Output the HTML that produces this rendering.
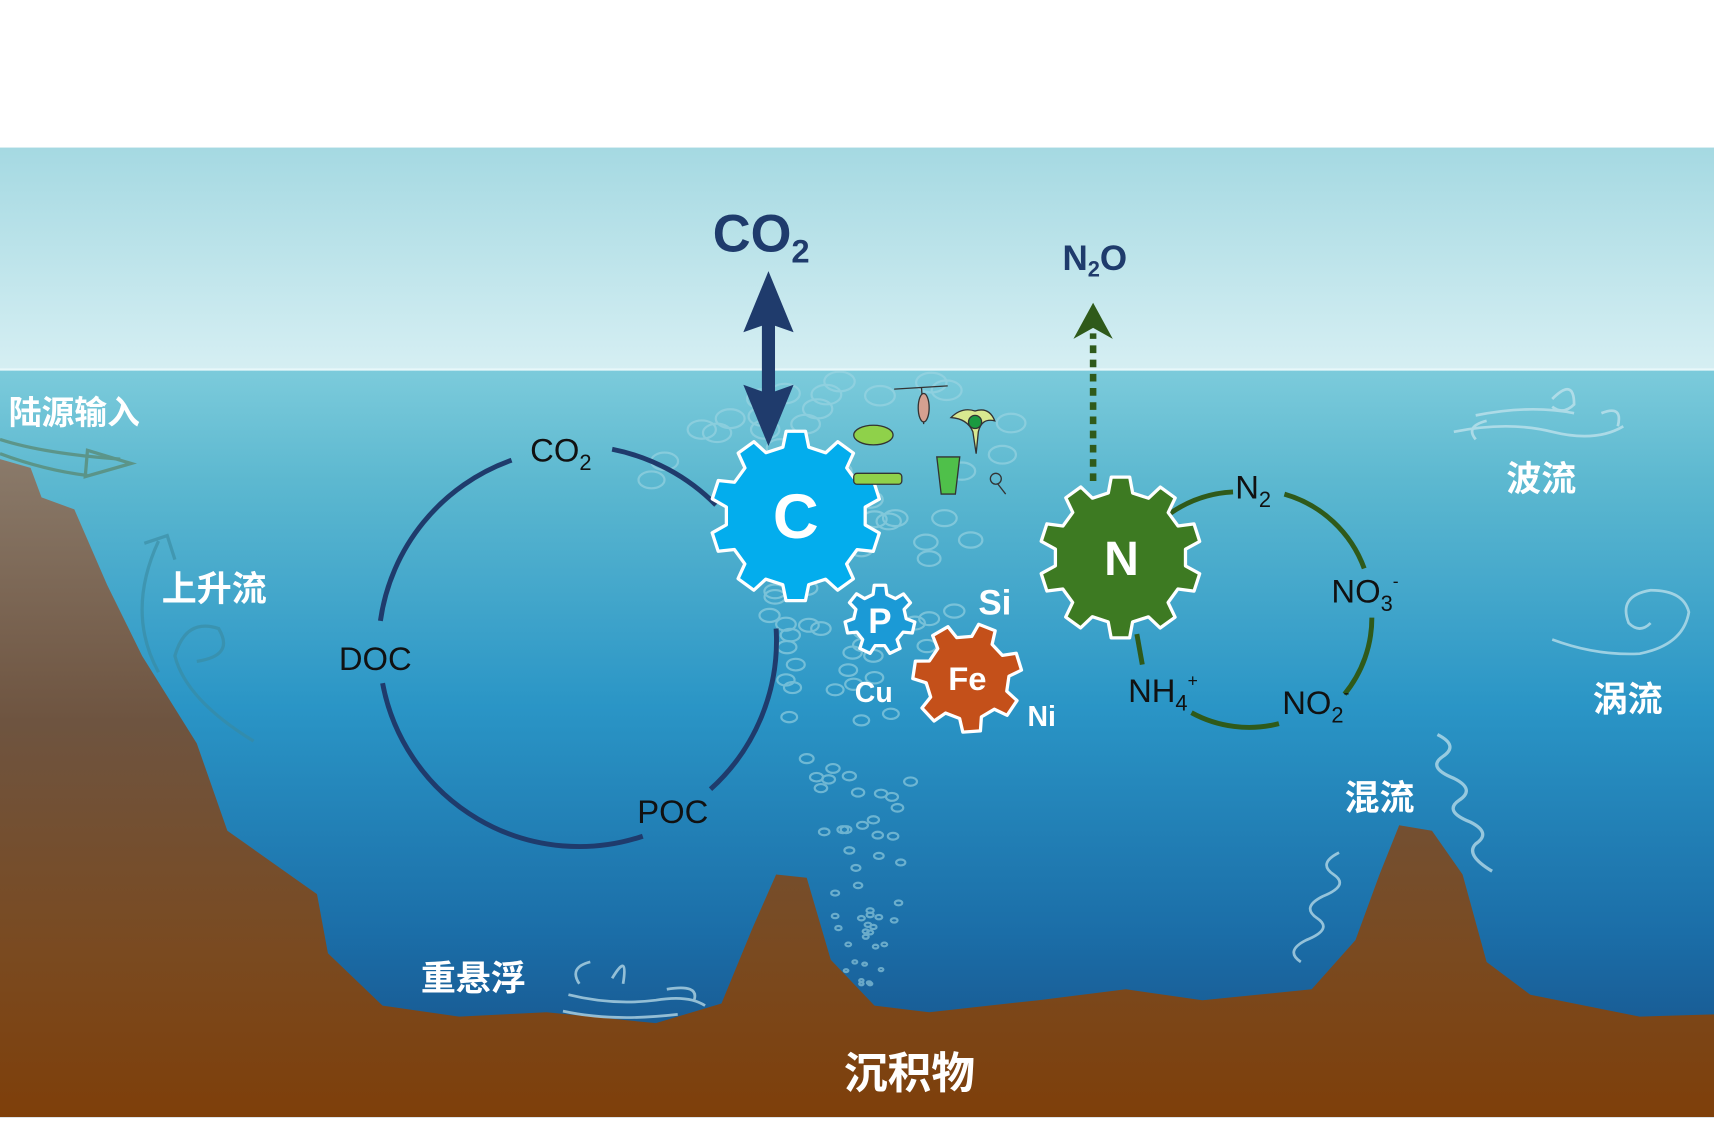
<!DOCTYPE html>
<html><head><meta charset="utf-8"><style>
html,body{margin:0;padding:0;background:#fff;width:1714px;height:1127px;overflow:hidden}
svg{display:block}
text{font-family:"Liberation Sans","Noto Sans CJK SC",sans-serif}
.cn{font-family:"Noto Sans CJK SC","WenQuanYi Zen Hei",sans-serif;font-weight:bold;fill:#fff}
.lb{font-family:"DejaVu Sans","Liberation Sans",sans-serif;fill:#111}
</style></head><body>
<svg id="s" width="1714" height="1127" viewBox="0 0 1568 1031" preserveAspectRatio="none" xmlns="http://www.w3.org/2000/svg">
<defs>
<linearGradient id="sky" x1="0" y1="0" x2="0" y2="1"><stop offset="0" stop-color="#a5d9e2"/><stop offset="1" stop-color="#d6eff3"/></linearGradient>
<linearGradient id="sea" x1="0" y1="0" x2="0" y2="1"><stop offset="0" stop-color="#7ccbdb"/><stop offset="0.15" stop-color="#5cb8d0"/><stop offset="0.45" stop-color="#2a95c6"/><stop offset="0.75" stop-color="#1b6ea8"/><stop offset="1" stop-color="#164a82"/></linearGradient>
<linearGradient id="bed" x1="0" y1="0" x2="0" y2="1"><stop offset="0" stop-color="#8a7a6a"/><stop offset="0.4" stop-color="#6e5440"/><stop offset="0.75" stop-color="#7a4a20"/><stop offset="1" stop-color="#7e3f0a"/></linearGradient>
</defs>
<rect x="0" y="135" width="1568" height="205" fill="url(#sky)"/>
<rect x="0" y="338" width="1568" height="686" fill="url(#sea)"/>
<line x1="0" y1="338" x2="1568" y2="338" stroke="#e8f8fa" stroke-width="2"/>
<g id="bubbles" fill="none" stroke="#9fd6e3" stroke-width="2" opacity="0.6"></g>
<path d="M0,420 L28,428 L38,455 L68,466 L98,535 L130,600 L180,680 L208,760 L290,818 L300,872 L350,920 L420,930 L500,926 L600,936 L660,918 L688,850 L710,800 L738,803 L760,878 L800,920 L850,926 L950,915 L1030,905 L1100,915 L1200,905 L1240,860 L1262,800 L1280,755 L1310,760 L1338,800 L1360,880 L1400,910 L1500,930 L1568,928 L1568,1022 L0,1022 Z" fill="url(#bed)"/>
<rect x="0" y="1022" width="1568" height="9" fill="#fff"/>
<!-- currents -->
<g fill="none" stroke="#5a8c78" stroke-width="3" opacity="0.8">
<path d="M0,402 Q40,415 110,420 M0,415 Q40,430 80,435"/>
<path d="M80,412 L120,424 L78,436 Z" stroke-width="3"/>
</g>
<g fill="none" stroke="#3a8aa0" stroke-width="3" opacity="0.6">
<path d="M145,615 Q115,560 145,495 M132,497 L153,490 L160,512"/>
<path d="M232,678 Q170,640 160,600 Q170,565 200,575 Q215,600 180,605"/>
</g>
<g fill="none" stroke="#c8e6ee" stroke-width="2.5" opacity="0.7">
<path d="M1330,395 Q1380,385 1420,395 Q1460,405 1485,390 M1350,380 Q1400,370 1440,378 M1350,402 Q1340,390 1360,385 M1420,365 Q1440,345 1440,370 Q1430,380 1420,372 M1465,378 Q1485,370 1480,390"/>
<path d="M1420,585 Q1460,600 1500,598 Q1540,590 1545,560 Q1540,540 1510,540 Q1480,545 1490,570 Q1500,580 1510,570"/>
<path d="M520,910 Q560,920 600,915 Q630,910 645,920 M515,925 Q560,935 620,928 M530,900 Q520,885 540,880 M560,895 Q575,870 570,900 M610,905 Q640,900 635,915"/>
<path d="M1315,672 q20,10 5,20 q-15,10 10,20 q20,10 5,20 q-15,10 10,20 q20,10 5,20 q-10,10 15,25" stroke-width="3"/>
<path d="M1225,780 q-20,10 -5,20 q15,10 -10,20 q-20,10 -5,20 q15,10 -10,20 q-20,10 -5,20"/>
</g>
<!-- carbon cycle -->
<g fill="none" stroke="#1f3b6c" stroke-width="4.5">
<path d="M468,421 A183,183 0 0 0 348,568"/>
<path d="M350,625 A183,183 0 0 0 588,765"/>
<path d="M650,722 A183,183 0 0 0 710,575"/>
<path d="M560,411 A183,183 0 0 1 655,462"/>
</g>
<!-- N cycle -->
<g fill="none" stroke="#2f5a1a" stroke-width="4.5">
<path d="M1070,470 A110,110 0 0 1 1128,450"/>
<path d="M1175,452 A110,110 0 0 1 1248,520"/>
<path d="M1255,565 A110,110 0 0 1 1230,635"/>
<path d="M1170,662 A110,110 0 0 1 1090,652"/>
<path d="M1040,580 L1045,608"/>
</g>
<!-- arrows -->
<path d="M703,248 L726,304 L709,298 L709,358 L726,352 L703,408 L680,352 L697,358 L697,298 L680,304 Z" fill="#1f3b6c"/>
<line x1="1000" y1="440" x2="1000" y2="305" stroke="#2f5a1a" stroke-width="6" stroke-dasharray="7,6"/>
<path d="M1000,277 L1018,310 L1000,300 L982,310 Z" fill="#2f5a1a"/>
<g id="gears"></g>
<!-- organisms -->
<g stroke="#333" stroke-width="1.2">
<ellipse cx="799" cy="398" rx="18" ry="9" fill="#8fd14a"/>
<rect x="781" y="433" width="44" height="10" rx="3" fill="#8fd14a"/>
<path d="M818,356 L867,353 M843,354 L845,388" fill="none"/>
<ellipse cx="845" cy="373" rx="5" ry="13" fill="#d4a090"/>
<path d="M870,382 Q880,372 892,376 Q905,372 910,385 Q898,382 895,395 L893,415 L890,395 Q885,383 870,382Z" fill="#d8e890"/>
<circle cx="892" cy="386" r="6" fill="#1a9a40"/>
<path d="M857,418 L878,418 L874,452 L861,452 Z" fill="#4fc04a"/>
<circle cx="911" cy="438" r="5" fill="none"/><path d="M913,443 L920,452" fill="none"/>
</g>
<!-- labels -->
<g class="lb" font-size="30">
<text x="485" y="422">CO<tspan font-size="20" dy="8">2</tspan></text>
<text x="310" y="613">DOC</text>
<text x="583" y="753">POC</text>
<text x="1130" y="456">N<tspan font-size="20" dy="8">2</tspan></text>
<text x="1218" y="551">NO<tspan font-size="20" dy="8">3</tspan><tspan font-size="16" dy="-22">-</tspan></text>
<text x="1032" y="642">NH<tspan font-size="20" dy="8">4</tspan><tspan font-size="16" dy="-22">+</tspan></text>
<text x="1173" y="653">NO<tspan font-size="20" dy="8">2</tspan><tspan font-size="16" dy="-22">-</tspan></text>
</g>
<text x="652" y="230" font-size="48" font-weight="bold" fill="#1f3b6c">CO<tspan font-size="30" dy="10">2</tspan></text>
<text x="972" y="247" font-size="32" font-weight="bold" fill="#1f3b6c">N<tspan font-size="20" dy="6">2</tspan><tspan dy="-6">O</tspan></text>
<g font-weight="bold" fill="#fff">
<text x="895" y="562" font-size="32">Si</text>
<text x="782" y="642" font-size="26">Cu</text>
<text x="940" y="664" font-size="26">Ni</text>
<text x="728" y="492" font-size="58" text-anchor="middle">C</text>
<text x="1026" y="526" font-size="44" text-anchor="middle">N</text>
<text x="805" y="579" font-size="32" text-anchor="middle">P</text>
<text x="885" y="631" font-size="30" text-anchor="middle">Fe</text>
</g>
<g class="cn">
<text x="8" y="388" font-size="30">陆源输入</text>
<text x="148" y="550" font-size="32">上升流</text>
<text x="1378" y="449" font-size="32">波流</text>
<text x="1457" y="651" font-size="32">涡流</text>
<text x="1230" y="741" font-size="32">混流</text>
<text x="385" y="906" font-size="32">重悬浮</text>
<text x="772" y="996" font-size="40">沉积物</text>
</g>
</svg>
<script>
function gear(cx,cy,ro,ri,n,fill,rot){
 var p=[],tw=0.33*2*Math.PI/n;
 for(var i=0;i<n;i++){
  var a=rot+i*2*Math.PI/n;
  var pts=[[a-tw*0.9,ri],[a-tw*0.55,ro],[a+tw*0.55,ro],[a+tw*0.9,ri]];
  pts.forEach(function(q){p.push((cx+q[1]*Math.cos(q[0])).toFixed(1)+','+(cy+q[1]*Math.sin(q[0])).toFixed(1));});
 }
 return '<polygon points="'+p.join(' ')+'" fill="'+fill+'" stroke="#fff" stroke-width="3" stroke-linejoin="round"/>';
}
var g=document.getElementById('gears');
g.innerHTML=gear(728,472,78,64,10,'#03aded',-1.57)+gear(1025,510,74,60,10,'#3d7a22',-1.57)+gear(805,567,32,24,7,'#1b9ad6',-1.57)+gear(885,620,50,38,7,'#c4501a',-1.2);
var b=document.getElementById('bubbles'),h='',seed=7;
function r(){seed=(seed*9301+49297)%233280;return seed/233280;}
for(var i=0;i<120;i++){var y=345+r()*560,sp=Math.max(10,140-(y-345)*0.22),x=790+(r()-0.5)*2*sp+ (y<450?(r()-0.5)*200:0),rr=Math.max(2,14-(y-345)*0.022);h+='<ellipse cx="'+x.toFixed(0)+'" cy="'+y.toFixed(0)+'" rx="'+rr.toFixed(1)+'" ry="'+(rr*0.65).toFixed(1)+'"/>';}
b.innerHTML=h;
</script>
</body></html>
